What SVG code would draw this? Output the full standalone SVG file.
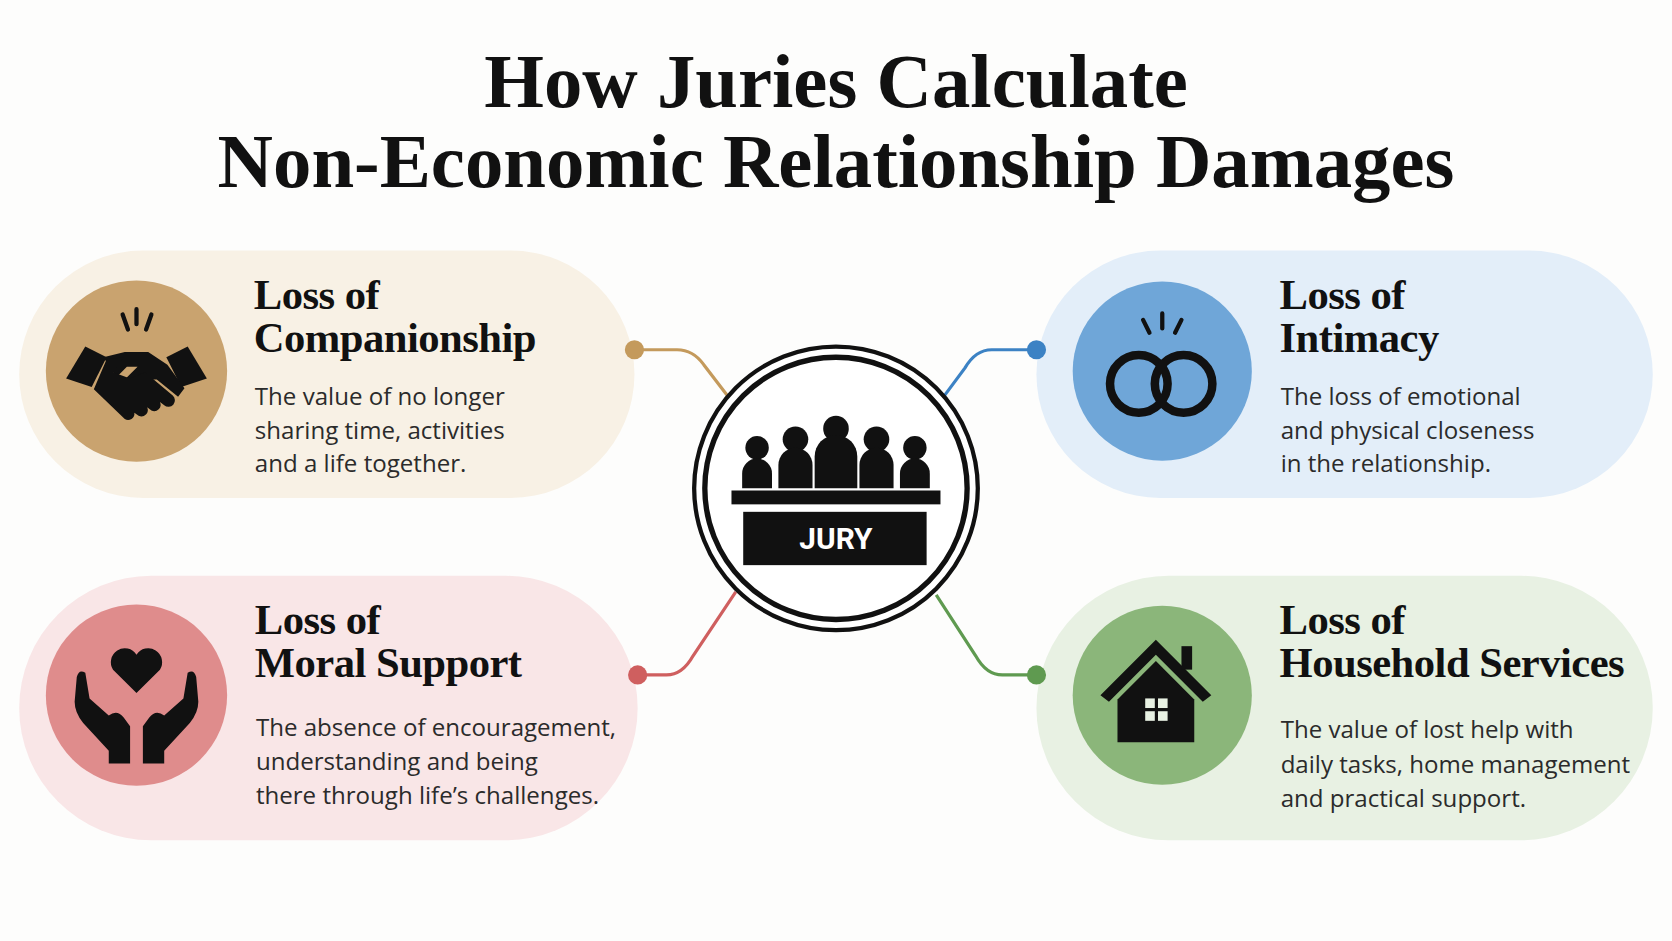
<svg xmlns="http://www.w3.org/2000/svg" width="1672" height="941" viewBox="0 0 1672 941">
<style>
.t{font-family:"Liberation Serif","DejaVu Serif",serif;font-weight:bold;fill:#111;text-anchor:middle}
.h{font-family:"Liberation Serif","DejaVu Serif",serif;font-weight:bold;fill:#111;font-size:40px;letter-spacing:-0.5px}
.b{font-family:"Open Sans","Noto Sans",sans-serif;fill:#2b2b2b;font-size:22.6px}
.ic{fill:#111}
.ln{fill:none;stroke-width:3}
</style>
<rect width="1672" height="941" fill="#fdfdfc"/>
<g transform="scale(1.0663)">
<text class="t" x="784" y="100" font-size="72">How Juries Calculate</text>
<text class="t" x="784" y="175" font-size="72">Non-Economic Relationship Damages</text>

<g id="companionship">
<rect x="18" y="235" width="577" height="232" rx="116" fill="#f8f1e5"/>
<circle cx="128" cy="348" r="85" fill="#c9a36f"/>
<g class="ic">
<path d="M115 295 l5 14 M128 290 v14 M142 295 l-5 14" stroke="#111" stroke-width="4" stroke-linecap="round"/>
<path d="M62 355 l18 -30 l20 10 l-14 28z"/>
<path d="M194 355 l-18 -30 l-20 10 l14 28z"/>
<path d="M97 335 l20 -5 l22 0 l18 12 l16 22 l-6 8 l-20 -16 l-12 0 l-10 6 l-8 -6 l12 -12 l-10 0 l-10 10z"/>
<path d="M88 365 l12 -28 l16 -2 l-10 14 l16 6 l14 -6 l26 22 a6 6 0 0 1 -8 9 l-4 -3 a6 6 0 0 1 -8 8 l-4 -3 a6 6 0 0 1 -8 8 l-4 -3 a6 6 0 0 1 -9 6z"/>
</g>
<text class="h" x="238" y="290">Loss of</text>
<text class="h" x="238" y="330">Companionship</text>
<text class="b" x="239" y="380">The value of no longer</text>
<text class="b" x="239" y="412">sharing time, activities</text>
<text class="b" x="239" y="443">and a life together.</text>
</g>

<g id="intimacy">
<rect x="972" y="235" width="578" height="232" rx="116" fill="#e3eef9"/>
<circle cx="1090" cy="348" r="84" fill="#6fa6d8"/>
<circle cx="1068" cy="360" r="27" fill="none" stroke="#111" stroke-width="8"/>
<circle cx="1110" cy="360" r="27" fill="none" stroke="#111" stroke-width="8"/>
<path d="M1072 300 l6 12 M1090 294 v14 M1108 300 l-6 12" stroke="#111" stroke-width="4" stroke-linecap="round"/>
<text class="h" x="1200" y="290">Loss of</text>
<text class="h" x="1200" y="330">Intimacy</text>
<text class="b" x="1201" y="380">The loss of emotional</text>
<text class="b" x="1201" y="412">and physical closeness</text>
<text class="b" x="1201" y="443">in the relationship.</text>
</g>

<g id="moral">
<rect x="18" y="540" width="580" height="248" rx="124" fill="#f9e6e7"/>
<circle cx="128" cy="652" r="85" fill="#df8c8c"/>
<path class="ic" d="M128 650 l-22 -22 a12 12 0 0 1 22 -14 a12 12 0 0 1 22 14z"/>
<path class="ic" d="M72 635 q2 -8 8 -4 l4 24 l18 16 q8 -6 14 2 l6 8 v35 h-20 v-12 l-24 -26 q-8 -10 -8 -20z"/>
<path class="ic" d="M184 635 q-2 -8 -8 -4 l-4 24 l-18 16 q-8 -6 -14 2 l-6 8 v35 h20 v-12 l24 -26 q8 -10 8 -20z"/>
<text class="h" x="239" y="595">Loss of</text>
<text class="h" x="239" y="635">Moral Support</text>
<text class="b" x="240" y="690">The absence of encouragement,</text>
<text class="b" x="240" y="722">understanding and being</text>
<text class="b" x="240" y="754">there through life’s challenges.</text>
</g>

<g id="household">
<rect x="972" y="540" width="578" height="248" rx="124" fill="#e8f1e3"/>
<circle cx="1090" cy="652" r="84" fill="#8bb67a"/>
<path class="ic" d="M1032 652 l52 -52 l52 52 l-8 6 l-44 -44 l-44 44z"/>
<rect class="ic" x="1108" y="606" width="10" height="22"/>
<path class="ic" d="M1048 656 l36 -36 l36 36 v40 h-72z"/>
<g fill="#e8f1e3"><rect x="1074" y="655" width="9" height="9"/><rect x="1086" y="655" width="9" height="9"/><rect x="1074" y="667" width="9" height="9"/><rect x="1086" y="667" width="9" height="9"/></g>
<text class="h" x="1200" y="595">Loss of</text>
<text class="h" x="1200" y="635">Household Services</text>
<text class="b" x="1201" y="692">The value of lost help with</text>
<text class="b" x="1201" y="725">daily tasks, home management</text>
<text class="b" x="1201" y="757">and practical support.</text>
</g>

<g id="connectors">
<path class="ln" stroke="#c49a5c" d="M595 328 H635 Q650 328 660 342 L683 372"/>
<circle cx="595" cy="328" r="9" fill="#c49a5c"/>
<path class="ln" stroke="#3c82c4" d="M972 328 H930 Q915 328 905 345 L885 372"/>
<circle cx="972" cy="328" r="9" fill="#3c82c4"/>
<path class="ln" stroke="#cf5f5f" d="M598 633 H625 Q640 633 650 615 L690 555"/>
<circle cx="598" cy="633" r="9" fill="#cf5f5f"/>
<path class="ln" stroke="#5f9a50" d="M972 633 H940 Q925 633 915 615 L878 558"/>
<circle cx="972" cy="633" r="9" fill="#5f9a50"/>
</g>

<g id="jury">
<circle cx="784" cy="458" r="133" fill="#fff" stroke="#111" stroke-width="4"/>
<circle cx="784" cy="458" r="123" fill="none" stroke="#111" stroke-width="5"/>
<g class="ic">
<circle cx="710" cy="420" r="11"/><path d="M696 458 v-14 a14 14 0 0 1 28 0 v14z"/>
<circle cx="746" cy="412" r="12"/><path d="M730 458 v-22 a16 16 0 0 1 32 0 v22z"/>
<circle cx="784" cy="402" r="12"/><path d="M764 458 v-30 a20 20 0 0 1 40 0 v30z"/>
<circle cx="822" cy="412" r="12"/><path d="M806 458 v-22 a16 16 0 0 1 32 0 v22z"/>
<circle cx="858" cy="420" r="11"/><path d="M844 458 v-14 a14 14 0 0 1 28 0 v14z"/>
<rect x="686" y="460" width="196" height="13"/>
<rect x="697" y="480" width="172" height="50"/>
</g>
<text x="784" y="515" text-anchor="middle" font-family="Roboto,'Liberation Sans',sans-serif" font-weight="bold" font-size="28" fill="#fff">JURY</text>
</g>
</g>
</svg>
